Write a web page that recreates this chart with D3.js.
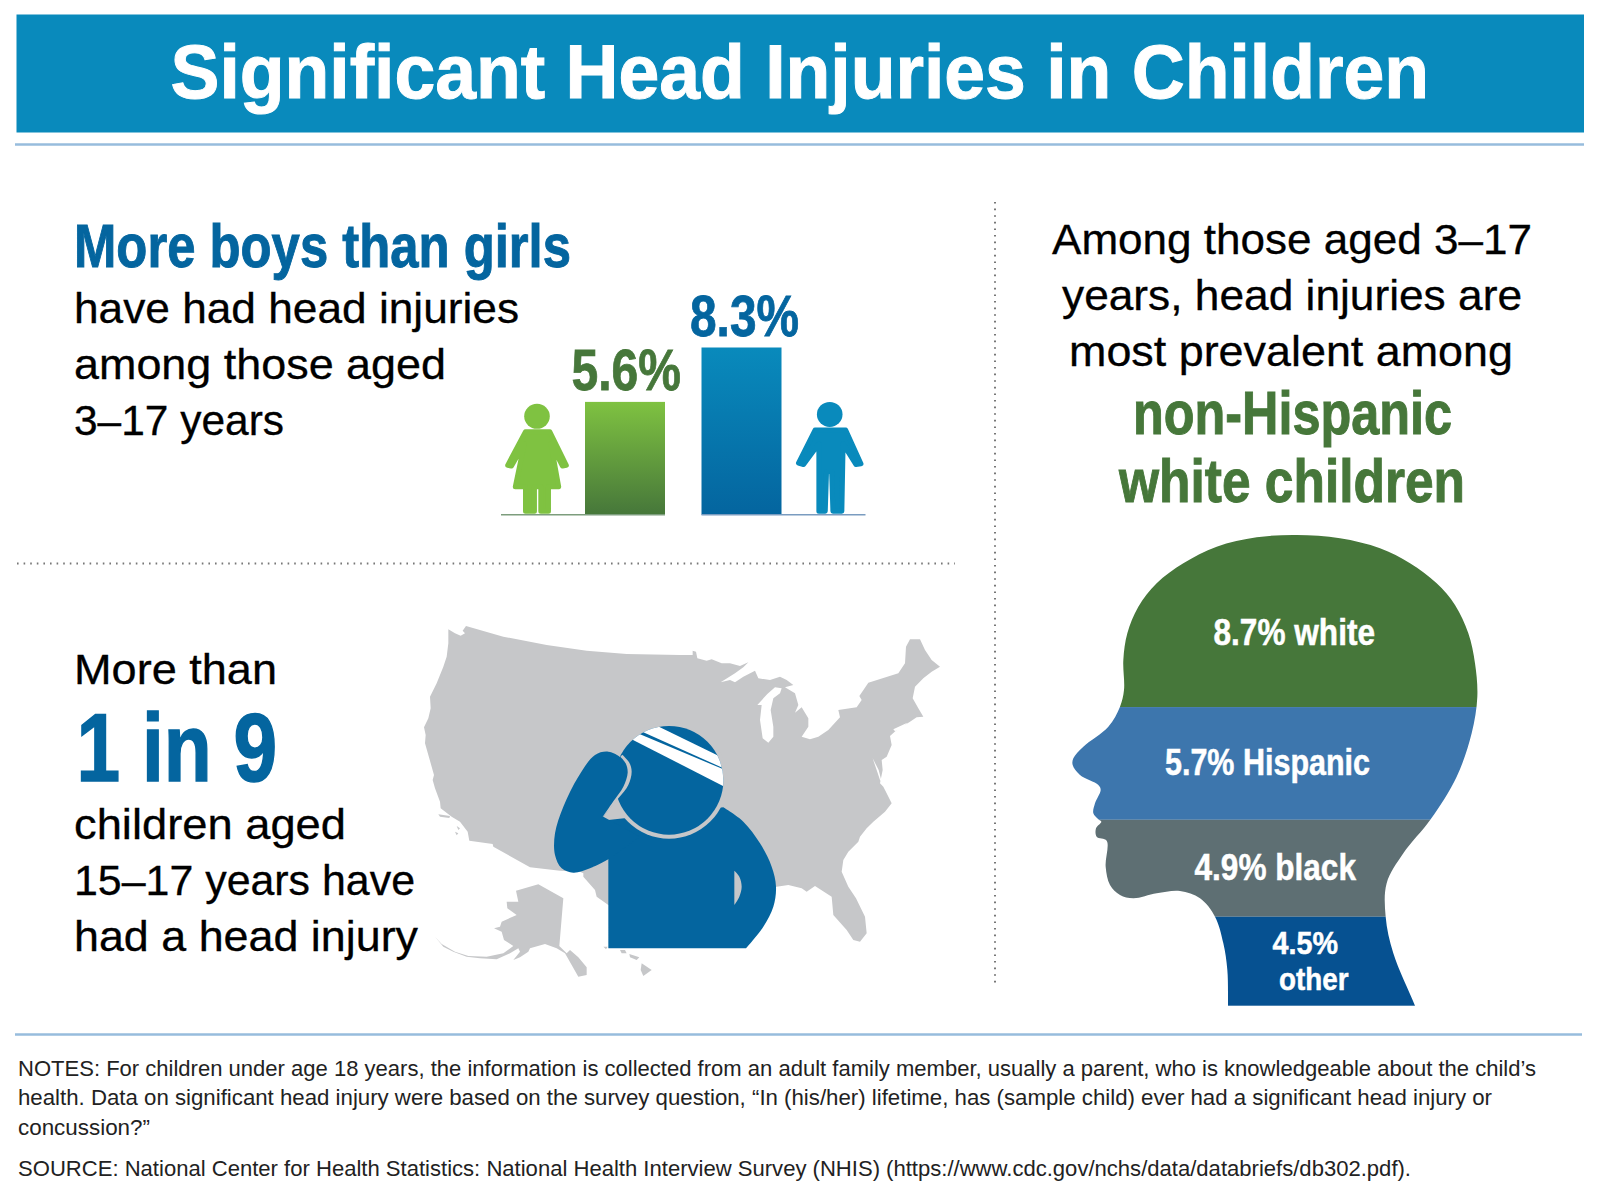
<!DOCTYPE html>
<html>
<head>
<meta charset="utf-8">
<script src="https://cdn.jsdelivr.net/npm/d3@7"></script>
<style>
  body { margin: 0; background: #fff; }
  text { font-family: "Liberation Sans", Arial, sans-serif; }
</style>
</head>
<body>
<div id="chart"></div>
<script>
// Chart values
var sexLabels = ["girls", "boys"];
var sexValues = [5.6, 8.3];
var raceLabels = ["white", "Hispanic", "black", "other"];
var raceValues = [8.7, 5.7, 4.9, 4.5];

var titleText = "Significant Head Injuries in Children";
var notesLines = [
  "NOTES: For children under age 18 years, the information is collected from an adult family member, usually a parent, who is knowledgeable about the child\u2019s",
  "health. Data on significant head injury were based on the survey question, \u201cIn (his/her) lifetime, has (sample child) ever had a significant head injury or",
  "concussion?\u201d"
];
var sourceLine = "SOURCE: National Center for Health Statistics: National Health Interview Survey (NHIS) (https://www.cdc.gov/nchs/data/databriefs/db302.pdf).";

// Colors
var bandBlue = "#098abc", darkBlue = "#04659f", green = "#46773a", lightGreen = "#7fc241";
var ruleBlue = "#97bcdd", mapGrey = "#c6c7c9";
var raceColors = ["#46773a", "#3d76ad", "#5e6f73", "#065191"];

var svg = d3.select("#chart").append("svg")
  .attr("width", 1600).attr("height", 1200)
  .style("display", "block");
var defs = svg.append("defs");

// Every text line is fitted to the width it has in the picture
function label(str, x0, x1, y, size, weight, fill, thick) {
  return svg.append("text")
    .attr("x", x0).attr("y", y)
    .attr("textLength", x1 - x0).attr("lengthAdjust", "spacingAndGlyphs")
    .attr("font-size", size).attr("font-weight", weight).attr("fill", fill)
    .attr("stroke", thick ? fill : "none").attr("stroke-width", thick || 0)
    .text(str);
}

function gradient(id, top, bottom) {
  var g = defs.append("linearGradient").attr("id", id)
    .attr("x1", 0).attr("y1", 0).attr("x2", 0).attr("y2", 1);
  g.append("stop").attr("offset", 0).attr("stop-color", top);
  g.append("stop").attr("offset", 1).attr("stop-color", bottom);
}
gradient("girlGrad", lightGreen, green);
gradient("boyGrad", bandBlue, darkBlue);

// ---- Header and rules ----
svg.append("rect").attr("x", 16.5).attr("y", 14.5).attr("width", 1567.5).attr("height", 118).attr("fill", bandBlue);
svg.append("line").attr("x1", 15).attr("x2", 1584).attr("y1", 144.5).attr("y2", 144.5).attr("stroke", ruleBlue).attr("stroke-width", 2.5);
svg.append("line").attr("x1", 15).attr("x2", 1582).attr("y1", 1034.5).attr("y2", 1034.5).attr("stroke", ruleBlue).attr("stroke-width", 2.5);
label(titleText, 170.5, 1429, 98, 76, "bold", "#fff", 1);

svg.append("line").attr("x1", 17).attr("x2", 955).attr("y1", 563.5).attr("y2", 563.5)
  .attr("stroke", "#777").attr("stroke-width", 2).attr("stroke-dasharray", "1.6 5");
svg.append("line").attr("x1", 995).attr("x2", 995).attr("y1", 202).attr("y2", 987)
  .attr("stroke", "#777").attr("stroke-width", 2).attr("stroke-dasharray", "1.6 5");

// ---- Top left text ----
label("More boys than girls", 74, 571, 266.5, 62, "bold", darkBlue, 1);
label("have had head injuries", 74, 519, 323, 42, "normal", "#000", 0.3);
label("among those aged", 74, 446, 379, 42, "normal", "#000", 0.3);
label("3\u201317 years", 74, 284, 434.5, 42, "normal", "#000", 0.3);

// ---- Bars ----
var baseY = 514.7;
var barY = d3.scaleLinear().domain([0, 8.3]).range([baseY, 347.5]);
var barLeft = [585, 701.5];
var barFill = ["url(#girlGrad)", "url(#boyGrad)"];
var barText = [green, darkBlue];
var barTextX = [[571.5, 681], [690, 799]];

svg.selectAll(".bar").data(sexValues).enter().append("rect")
  .attr("class", "bar")
  .attr("x", (d, i) => barLeft[i])
  .attr("y", d => barY(d))
  .attr("width", 80)
  .attr("height", d => baseY - barY(d))
  .attr("fill", (d, i) => barFill[i]);

sexValues.forEach(function(v, i) {
  label(v + "%", barTextX[i][0], barTextX[i][1], barY(v) - 12, 58, "bold", barText[i], 0.8);
});

svg.append("line").attr("x1", 501).attr("x2", 665).attr("y1", baseY).attr("y2", baseY).attr("stroke", "#7d9d7d").attr("stroke-width", 1.6);
svg.append("line").attr("x1", 701.5).attr("x2", 865.5).attr("y1", baseY).attr("y2", baseY).attr("stroke", "#7a9cc0").attr("stroke-width", 1.6);

var topX = d3.scaleLinear().domain([0, 1568]).range([0, 1000]);
var topY = d3.scaleLinear().domain([0, 1568]).range([0, 600]);
var plain = d3.line().x(d => topX(d[0])).y(d => topY(d[1]));

var girlShape = [[824,1128],[862,1128],[888,1216],[882,1218],[864,1160],[876,1272],[860,1272],[860,1336],[848,1336],[848,1272],[838,1272],[838,1336],[824,1336],[824,1272],[808,1272],[822,1160],[802,1218],[796,1216]];
var boyShape = [[1278,1124],[1326,1124],[1350,1212],[1342,1214],[1322,1160],[1320,1336],[1306,1336],[1304,1232],[1296,1232],[1294,1336],[1284,1336],[1284,1160],[1260,1214],[1252,1210]];

svg.append("path").attr("d", plain(girlShape) + "Z")
  .attr("fill", lightGreen).attr("stroke", lightGreen).attr("stroke-width", 5).attr("stroke-linejoin", "round");
svg.append("ellipse").attr("cx", topX(842)).attr("cy", topY(1088)).attr("rx", 12.8).attr("ry", 12.5).attr("fill", lightGreen);
svg.append("path").attr("d", plain(boyShape) + "Z")
  .attr("fill", bandBlue).attr("stroke", bandBlue).attr("stroke-width", 5).attr("stroke-linejoin", "round");
svg.append("ellipse").attr("cx", topX(1301)).attr("cy", topY(1083)).attr("rx", 12.8).attr("ry", 12.5).attr("fill", bandBlue);

// ---- Bottom left text ----
label("More than", 74, 277, 683.5, 42, "normal", "#000", 0.3);
label("1 in 9", 76.5, 277, 781, 96, "bold", darkBlue, 1.5);
label("children aged", 74, 346, 838.5, 42, "normal", "#000", 0.3);
label("15\u201317 years have", 74, 415, 894.5, 42, "normal", "#000", 0.3);
label("had a head injury", 74, 418, 950.5, 42, "normal", "#000", 0.3);

function fromCrop(x0, y0, pts) {
  return pts.map(p => [x0 + p[0] / 3, y0 + p[1] / 3]);
}
var pageLine = d3.line();
var pageCurve = d3.line().curve(d3.curveCatmullRom.alpha(0.5));

var westCoast = fromCrop(420, 620, [[490,760],[480,755],[420,752],[330,742],[220,680],[218,672],[148,662],[143,635],[120,605],[95,590],[62,565],[60,545],[45,505],[38,480],[42,465],[35,440],[25,405],[15,370],[17,345],[12,322],[25,295],[32,265],[30,230],[50,190],[70,140],[80,110],[85,70],[85,28],[105,40],[122,47],[135,40],[128,32],[138,18],[250,50],[380,75],[500,92],[620,102],[780,105]]);
var northEast = fromCrop(680, 630, [[38,75],[38,62],[48,65],[52,85],[80,92],[95,88],[125,100],[150,100],[180,108],[205,97],[190,112],[165,130],[122,157],[150,150],[165,157],[190,140],[225,122],[235,145],[270,150],[300,140],[320,150],[340,165],[315,172],[345,190],[355,225],[345,248],[365,232],[385,265],[385,290],[365,320],[390,328],[415,320],[445,300],[480,262],[475,240],[530,232],[545,210],[538,198],[565,158],[655,130],[675,100],[678,50],[690,28],[720,28],[735,60],[755,90],[780,110],[755,125],[730,145],[705,170],[698,205],[715,235],[730,260],[710,262],[690,275],[650,300],[630,318],[635,345],[620,380],[605,390],[608,420],[600,460],[610,470]]);
var southEast = fromCrop(770, 780, [[345,30],[365,70],[345,95],[310,125],[290,145],[270,170],[265,185],[235,215],[220,240],[215,275],[235,320],[258,355],[285,410],[290,460],[270,485],[250,480],[230,450],[190,405],[185,350],[135,318],[110,335],[95,325],[55,315],[20,320]]);
var gulfHidden = [[700,900]];
var texasTip = fromCrop(540, 720, [[205,555],[170,530],[165,510],[130,470]]);
var usOutline = westCoast.concat(northEast, southEast, gulfHidden, texasTip);

// holes in the outline
var lakeMichigan = fromCrop(680, 630, [[232,225],[262,192],[285,172],[305,175],[300,190],[280,205],[272,240],[280,290],[280,320],[265,338],[248,325],[240,270],[245,225]]);
var chesapeake = fromCrop(680, 630, [[578,385],[590,420],[600,450],[605,455],[596,420]]);
var longIsland = fromCrop(680, 630, [[640,298],[682,278],[670,292],[645,304]]);

var alaska = fromCrop(430, 870, [[258,62],[325,43],[400,85],[388,228],[410,250],[420,240],[445,262],[470,292],[470,315],[445,320],[425,285],[405,250],[380,235],[345,222],[300,235],[295,245],[270,262],[250,270],[270,245],[265,235],[240,250],[200,268],[150,265],[110,260],[70,245],[40,230],[15,200],[35,222],[75,245],[115,258],[170,260],[220,250],[250,228],[222,210],[215,185],[192,175],[210,170],[215,155],[260,135],[232,115],[230,95],[265,95]]);
var islands = [
  fromCrop(430, 870, [[570,240],[585,240],[590,250],[575,250]]),
  fromCrop(430, 870, [[598,252],[628,262],[620,270],[600,262]]),
  fromCrop(430, 870, [[635,280],[665,300],[640,318],[632,300]]),
  fromCrop(430, 870, [[520,230],[533,230],[528,238]]),
  fromCrop(420, 620, [[55,583],[90,588],[88,594],[60,590]]),
  fromCrop(420, 620, [[110,618],[120,625],[115,630]]),
  fromCrop(420, 620, [[105,635],[115,640],[110,646]])
];

svg.append("path").attr("d", pageLine(usOutline) + "Z").attr("fill", mapGrey);
[lakeMichigan, chesapeake, longIsland].forEach(function(hole) {
  svg.append("path").attr("d", pageLine(hole) + "Z").attr("fill", "#fff");
});
svg.append("path").attr("d", pageLine(alaska) + "Z").attr("fill", mapGrey);
islands.forEach(function(isle) {
  svg.append("path").attr("d", pageLine(isle) + "Z").attr("fill", mapGrey);
});

// person
var shoulder = fromCrop(540, 720, [[550,262],[610,305],[660,370],[695,440],[708,500],[700,560],[670,620],[618,685]]);
var bodyRest = fromCrop(540, 720, [[205,685],[205,300]]);
var arm = fromCrop(540, 720, [[205,418],[150,445],[100,458],[65,445],[45,405],[45,340],[70,260],[115,170],[165,105],[205,95],[245,115],[272,155],[262,190],[190,290]]);
var armInner = fromCrop(540, 720, [[300,350],[205,418]]);
var handEdge = fromCrop(540, 720, [[247,104],[268,128],[275,155],[265,195],[235,235],[188,292],[220,244],[250,200],[263,158],[257,130],[241,110]]);
var armpit = fromCrop(540, 720, [[583,452],[598,470],[605,500],[598,530],[583,555]]);
var stripes = [
  fromCrop(540, 720, [[340,12],[600,139],[600,167],[280,23]]),
  fromCrop(540, 720, [[270,30],[600,169],[600,224],[260,50]])
];

var headCx = 669, headCy = 780.3, headR = 54.4;
svg.append("path").attr("d", pageCurve(shoulder) + pageLine(bodyRest).replace("M", "L") + "Z").attr("fill", darkBlue);
svg.append("circle").attr("cx", headCx).attr("cy", headCy).attr("r", headR + 4).attr("fill", mapGrey);
svg.append("circle").attr("cx", headCx).attr("cy", headCy).attr("r", headR).attr("fill", darkBlue);

defs.append("clipPath").attr("id", "headClip").append("circle")
  .attr("cx", headCx).attr("cy", headCy).attr("r", headR);
stripes.forEach(function(s) {
  svg.append("path").attr("d", pageLine(s) + "Z").attr("fill", "#fff").attr("clip-path", "url(#headClip)");
});

svg.append("path").attr("d", pageCurve(arm) + pageLine(armInner).replace("M", "L") + "Z").attr("fill", darkBlue);
svg.append("path").attr("d", pageCurve(handEdge) + "Z").attr("fill", mapGrey);
svg.append("path").attr("d", pageCurve(armpit) + "Z").attr("fill", mapGrey);

// ---- Right column text ----
label("Among those aged 3\u201317", 1052, 1532, 254, 42, "normal", "#000", 0.3);
label("years, head injuries are", 1062, 1522, 310, 42, "normal", "#000", 0.3);
label("most prevalent among", 1069, 1513, 366, 42, "normal", "#000", 0.3);
label("non-Hispanic", 1133, 1452, 434, 62, "bold", green, 1);
label("white children", 1119, 1465, 501.5, 62, "bold", green, 1);

// ---- Head, split in bands proportional to the values ----
var headX = d3.scaleLinear().domain([0, 1440]).range([1040, 1520]);
var headY = d3.scaleLinear().domain([0, 1500]).range([520, 1020]);
var headOutline = [[770,45],[650,52],[530,80],[430,130],[350,190],[295,260],[262,340],[250,420],[252,510],[240,560],[205,620],[130,680],[100,715],[98,735],[120,765],[175,795],[182,810],[165,850],[160,880],[175,898],[184,905],[168,925],[170,950],[200,962],[197,1040],[210,1095],[240,1125],[280,1135],[350,1120],[420,1113],[480,1135],[525,1190],[550,1270],[562,1350],[564,1457],[564,1540],[1158,1540],[1125,1457],[1060,1300],[1037,1190],[1040,1090],[1090,1000],[1172,898],[1250,770],[1295,640],[1312,530],[1305,430],[1285,340],[1245,255],[1190,190],[1110,130],[1020,85],[900,55]];
var headLine = d3.line().x(d => headX(d[0])).y(d => headY(d[1])).curve(d3.curveCatmullRomClosed.alpha(0.5));

defs.append("clipPath").attr("id", "headShape").append("path").attr("d", headLine(headOutline));

var cumulative = d3.cumsum(raceValues);
var stackY = d3.scaleLinear().domain([0, d3.sum(raceValues)]).range([535, 1005.7]);

svg.append("g").attr("clip-path", "url(#headShape)")
  .selectAll("rect").data(raceValues).enter().append("rect")
  .attr("x", 1040).attr("width", 480)
  .attr("y", (d, i) => stackY(cumulative[i] - d))
  .attr("height", d => stackY(d) - stackY(0))
  .attr("fill", (d, i) => raceColors[i]);

label(raceValues[0] + "% " + raceLabels[0], 1213.5, 1375, 644.5, 36, "bold", "#fff", 0.5);
label(raceValues[1] + "% " + raceLabels[1], 1165, 1370, 775, 36, "bold", "#fff", 0.5);
label(raceValues[2] + "% " + raceLabels[2], 1194.5, 1356, 879.5, 36, "bold", "#fff", 0.5);
// slightly smaller than the others so the two lines keep clear of each other
label(raceValues[3] + "%", 1272.5, 1338, 953.5, 32, "bold", "#fff", 0.5);
label(raceLabels[3], 1279, 1348.5, 989.5, 32, "bold", "#fff", 0.5);

// ---- Notes ----
var notesEnds = [1536, 1492, 150];
var notesY = [1075.5, 1105, 1135];
notesLines.forEach(function(line, i) {
  label(line, 18, notesEnds[i], notesY[i], 22, "normal", "#222");
});
label(sourceLine, 18, 1411, 1176, 22, "normal", "#222");
</script>
</body>
</html>
